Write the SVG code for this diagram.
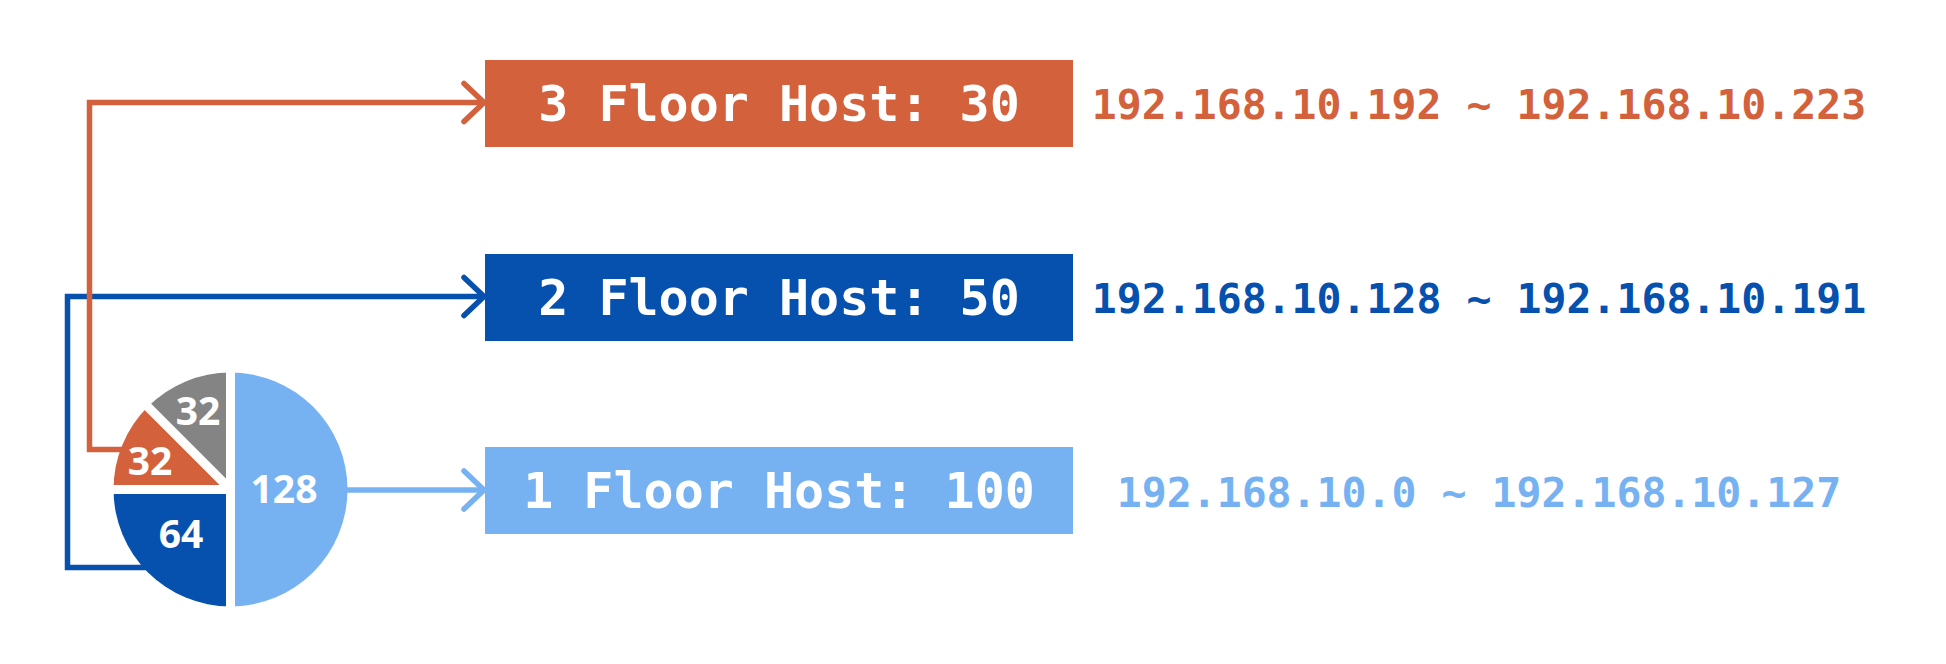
<svg xmlns="http://www.w3.org/2000/svg" width="1946" height="664" viewBox="0 0 1946 664">
  <style>
    .conn { fill: none; stroke-width: 5.5; stroke-linejoin: miter; }
    .box-text { font-family: "DejaVu Sans Mono", "Liberation Mono", monospace; font-weight: bold; font-size: 50px; fill: #ffffff; text-anchor: middle; }
    .ip-text { font-family: "DejaVu Sans Mono", "Liberation Mono", monospace; font-weight: bold; font-size: 41.5px; text-anchor: middle; }
    .pie-text { font-family: "Noto Sans", "Open Sans", "Liberation Sans", sans-serif; font-weight: bold; font-size: 39px; fill: #ffffff; text-anchor: middle; }
    .gap { stroke: #ffffff; stroke-width: 9; fill: none; }
  </style>
  <defs>
    <marker id="arrOrange" markerUnits="userSpaceOnUse" viewBox="-25 -25 30 50" refX="0" refY="0" markerWidth="30" markerHeight="50" orient="auto" overflow="visible">
      <path d="M -20 -19 L 0 0 L -20 19" fill="none" stroke="#D3613C" stroke-width="5.5" stroke-linecap="round" stroke-linejoin="miter"/>
    </marker>
    <marker id="arrBlue" markerUnits="userSpaceOnUse" viewBox="-25 -25 30 50" refX="0" refY="0" markerWidth="30" markerHeight="50" orient="auto" overflow="visible">
      <path d="M -20 -19 L 0 0 L -20 19" fill="none" stroke="#0651AE" stroke-width="5.5" stroke-linecap="round" stroke-linejoin="miter"/>
    </marker>
    <marker id="arrLight" markerUnits="userSpaceOnUse" viewBox="-25 -25 30 50" refX="0" refY="0" markerWidth="30" markerHeight="50" orient="auto" overflow="visible">
      <path d="M -20 -19 L 0 0 L -20 19" fill="none" stroke="#76B2F2" stroke-width="5.5" stroke-linecap="round" stroke-linejoin="miter"/>
    </marker>
  </defs>
  <rect x="0" y="0" width="1946" height="664" fill="#ffffff"/>

  <g id="connectors">
    <path id="conn-floor2" class="conn" stroke="#0651AE" d="M 160 567.5 H 67.5 V 296.5 H 484" marker-end="url(#arrBlue)"/>
    <path id="conn-floor3" class="conn" stroke="#D3613C" d="M 140 449.5 H 89.5 V 102.5 H 484" marker-end="url(#arrOrange)"/>
    <path id="conn-floor1" class="conn" stroke="#76B2F2" d="M 340 490 H 484" marker-end="url(#arrLight)"/>
  </g>

  <g id="pie">
    <path id="slice-128" fill="#76B2F2" d="M 230.5 489.5 L 230.5 372.5 A 117 117 0 0 1 230.5 606.5 Z"/>
    <path id="slice-64" fill="#0651AE" d="M 230.5 489.5 L 230.5 606.5 A 117 117 0 0 1 113.5 489.5 Z"/>
    <path id="slice-32-orange" fill="#D3613C" d="M 230.5 489.5 L 113.5 489.5 A 117 117 0 0 1 147.77 406.77 Z"/>
    <path id="slice-32-gray" fill="#848484" d="M 230.5 489.5 L 147.77 406.77 A 117 117 0 0 1 230.5 372.5 Z"/>
    <path class="gap" d="M 230.5 368 V 611 M 230.5 489.5 H 108 M 230.5 489.5 L 144 403"/>
    <text class="pie-text" x="284" y="503">128</text>
    <text class="pie-text" x="181" y="548">64</text>
    <text class="pie-text" x="150" y="475">32</text>
    <text class="pie-text" x="198" y="425">32</text>
  </g>

  <g id="node-floor3">
    <rect x="485" y="60" width="588" height="87" fill="#D3613C"/>
    <text class="box-text" x="779" y="121">3 Floor Host: 30</text>
    <text class="ip-text" x="1479" y="119" fill="#D3613C">192.168.10.192 ~ 192.168.10.223</text>
  </g>

  <g id="node-floor2">
    <rect x="485" y="254" width="588" height="87" fill="#0651AE"/>
    <text class="box-text" x="779" y="315">2 Floor Host: 50</text>
    <text class="ip-text" x="1479" y="313" fill="#0651AE">192.168.10.128 ~ 192.168.10.191</text>
  </g>

  <g id="node-floor1">
    <rect x="485" y="447" width="588" height="87" fill="#76B2F2"/>
    <text class="box-text" x="779" y="508">1 Floor Host: 100</text>
    <text class="ip-text" x="1479" y="507" fill="#76B2F2">192.168.10.0 ~ 192.168.10.127</text>
  </g>
</svg>
